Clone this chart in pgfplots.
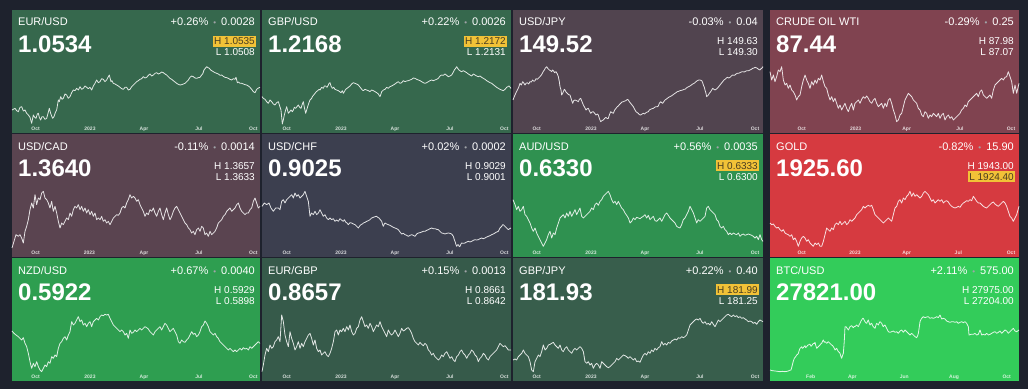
\documentclass[border=0pt]{standalone}
\usepackage{pgfplots}
\pgfplotsset{compat=1.18}
\usepackage{fontspec}
\setmainfont{Liberation Sans}
\definecolor{bg}{HTML}{1E222D}
\definecolor{c1}{HTML}{36684D}
\definecolor{c2}{HTML}{36684D}
\definecolor{c3}{HTML}{51444F}
\definecolor{c4}{HTML}{804350}
\definecolor{c5}{HTML}{5A4450}
\definecolor{c6}{HTML}{3C3F4F}
\definecolor{c7}{HTML}{2F9150}
\definecolor{c8}{HTML}{D63A40}
\definecolor{c9}{HTML}{2E9E50}
\definecolor{c10}{HTML}{365A4A}
\definecolor{c11}{HTML}{385E4C}
\definecolor{c12}{HTML}{33CC5A}
\definecolor{hly}{HTML}{F2C237}
\definecolor{hlt}{HTML}{4A3E20}
\definecolor{dotgrey}{HTML}{A0A4A8}

\newcommand{\tile}[8]{%
 \fill[#4] (#1,389-#2) rectangle (#3,389-#2-123);
 \node[anchor=base west,inner sep=0pt,text=white,font=\fontsize{11}{11}\selectfont] at (#1+6,389-#2-16) {#5};
 \node[anchor=base east,inner sep=0pt,text=white,font=\fontsize{11}{11}\selectfont] at (#3-5,389-#2-16) {#6\hspace{5pt}{\color{dotgrey}\fontsize{8}{8}\selectfont\textbullet}\hspace{5pt}#7};
 \node[anchor=base west,inner sep=0pt,text=white,font=\bfseries\fontsize{24}{24}\selectfont] at (#1+6,389-#2-42.5) {#8};
}
\tikzset{hlbox/.style={fill=hly,text=hlt}, plain/.style={text=white}}
\newcommand{\hlnode}[4]{\node[anchor=base east,inner xsep=1.5pt,inner ysep=1.6pt,font=\fontsize{10}{10}\selectfont,#4] at (#1-3.5,389-#2) {#3};}

\pgfplotsset{spark/.style={scale only axis, height=66pt, enlargelimits=false, clip=false,
  y dir=reverse, axis line style={draw=none}, major tick length=0pt, ytick=\empty,
  xticklabel style={anchor=center, yshift=-3pt, inner sep=0pt, text=white, text opacity=0.8, font=\bfseries\fontsize{5}{5}\selectfont}},
  spk/.style={white, opacity=0.85, line width=0.8pt, line join=round}}

\begin{document}
\begin{tikzpicture}[x=1pt,y=1pt]
\fill[bg] (0,0) rectangle (1028,389);
\tile{12}{10}{260}{c1}{EUR/USD}{+0.26\%}{0.0028}{1.0534}
\tile{262}{10}{511}{c2}{GBP/USD}{+0.22\%}{0.0026}{1.2168}
\tile{513}{10}{763}{c3}{USD/JPY}{-0.03\%}{0.04}{149.52}
\tile{770}{10}{1019}{c4}{CRUDE OIL WTI}{-0.29\%}{0.25}{87.44}
\tile{12}{134}{260}{c5}{USD/CAD}{-0.11\%}{0.0014}{1.3640}
\tile{262}{134}{511}{c6}{USD/CHF}{+0.02\%}{0.0002}{0.9025}
\tile{513}{134}{763}{c7}{AUD/USD}{+0.56\%}{0.0035}{0.6330}
\tile{770}{134}{1019}{c8}{GOLD}{-0.82\%}{15.90}{1925.60}
\tile{12}{258}{260}{c9}{NZD/USD}{+0.67\%}{0.0040}{0.5922}
\tile{262}{258}{511}{c10}{EUR/GBP}{+0.15\%}{0.0013}{0.8657}
\tile{513}{258}{763}{c11}{GBP/JPY}{+0.22\%}{0.40}{181.93}
\tile{770}{258}{1019}{c12}{BTC/USD}{+2.11\%}{575.00}{27821.00}

\hlnode{260}{45}{H 1.0535}{hlbox}\hlnode{260}{56}{L 1.0508}{plain}
\hlnode{511}{45}{H 1.2172}{hlbox}\hlnode{511}{56}{L 1.2131}{plain}
\hlnode{763}{45}{H 149.63}{plain}\hlnode{763}{56}{L 149.30}{plain}
\hlnode{1019}{45}{H 87.98}{plain}\hlnode{1019}{56}{L 87.07}{plain}
\hlnode{260}{169}{H 1.3657}{plain}\hlnode{260}{180}{L 1.3633}{plain}
\hlnode{511}{169}{H 0.9029}{plain}\hlnode{511}{180}{L 0.9001}{plain}
\hlnode{763}{169}{H 0.6333}{hlbox}\hlnode{763}{180}{L 0.6300}{plain}
\hlnode{1019}{169}{H 1943.00}{plain}\hlnode{1019}{180}{L 1924.40}{hlbox}
\hlnode{260}{293}{H 0.5929}{plain}\hlnode{260}{304}{L 0.5898}{plain}
\hlnode{511}{293}{H 0.8661}{plain}\hlnode{511}{304}{L 0.8642}{plain}
\hlnode{763}{293}{H 181.99}{hlbox}\hlnode{763}{304}{L 181.25}{plain}
\hlnode{1019}{293}{H 27975.00}{plain}\hlnode{1019}{304}{L 27204.00}{plain}

% EUR/USD
\begin{axis}[spark, at={(12pt,263pt)}, anchor=south west, width=248pt, xmin=36, xmax=780, ymin=180, ymax=378,
  xtick={107,270,432,597,760}, xticklabels={Oct,2023,Apr,Jul,Oct}]
\addplot[spk] coordinates {(36,330)(45,325)(50,332)(55,335)(60,322)(65,320)(70,333)(75,330)(80,340)(85,345)(90,352)(95,370)(100,345)(104,352)(108,355)(112,342)(115,340)(118,352)(122,360)(126,350)(130,350)(135,358)(140,355)(144,340)(148,325)(152,340)(155,348)(158,355)(162,350)(166,338)(170,330)(175,300)(178,305)(182,290)(186,298)(190,295)(195,282)(200,285)(205,295)(210,290)(215,278)(220,270)(225,272)(230,265)(235,270)(240,260)(245,268)(250,265)(255,258)(260,262)(265,266)(270,262)(275,270)(280,258)(285,250)(290,240)(295,248)(300,245)(305,236)(310,238)(315,245)(320,240)(324,232)(328,225)(333,245)(336,242)(340,250)(345,252)(350,255)(355,258)(360,262)(365,266)(370,268)(375,262)(380,262)(385,270)(390,268)(395,260)(400,255)(405,250)(410,245)(415,242)(420,238)(425,236)(430,230)(435,234)(440,232)(445,226)(450,222)(455,228)(460,225)(465,220)(470,218)(475,222)(480,220)(485,216)(490,218)(495,222)(500,225)(505,230)(510,235)(515,238)(520,242)(525,246)(530,250)(535,253)(540,255)(545,254)(550,252)(555,250)(560,245)(565,240)(570,232)(575,228)(580,230)(585,234)(590,235)(595,233)(600,232)(605,225)(608,222)(612,210)(616,205)(620,200)(624,203)(628,205)(632,210)(635,212)(640,215)(645,218)(650,220)(655,222)(660,226)(665,225)(670,229)(675,232)(680,233)(685,235)(690,238)(695,240)(700,236)(705,238)(708,232)(712,248)(716,246)(720,250)(725,250)(730,252)(735,254)(740,255)(745,258)(750,262)(755,268)(760,275)(765,278)(770,268)(775,264)(780,262)};
\end{axis}

% GBP/USD
\begin{axis}[spark, at={(262pt,263pt)}, anchor=south west, width=249pt, xmin=21, xmax=768, ymin=180, ymax=378,
  xtick={95,258,420,585,748}, xticklabels={Oct,2023,Apr,Jul,Oct}]
\addplot[spk] coordinates {(21,290)(25,295)(30,298)(35,305)(40,310)(45,300)(50,305)(55,312)(60,315)(65,308)(70,305)(74,318)(78,330)(82,372)(85,360)(88,345)(92,330)(95,320)(98,332)(100,340)(104,335)(108,330)(112,335)(115,330)(118,322)(122,325)(126,320)(130,315)(134,322)(138,325)(142,312)(145,305)(148,322)(152,340)(155,330)(158,320)(162,308)(165,300)(170,295)(172,290)(176,285)(180,280)(184,275)(188,272)(192,268)(195,270)(200,262)(205,265)(208,258)(212,258)(216,262)(220,255)(222,250)(225,248)(228,258)(232,265)(236,262)(240,268)(245,270)(250,272)(254,275)(258,278)(262,272)(265,280)(268,275)(272,268)(276,265)(280,262)(285,258)(290,252)(295,248)(300,250)(305,252)(310,255)(314,260)(318,265)(322,270)(325,272)(330,268)(335,270)(340,272)(345,275)(350,270)(355,272)(360,275)(365,278)(370,282)(375,290)(378,282)(380,275)(385,270)(390,268)(395,262)(400,265)(405,260)(410,258)(415,255)(420,252)(425,248)(430,245)(435,250)(440,248)(445,242)(450,245)(455,243)(460,242)(465,240)(470,238)(475,234)(480,235)(485,238)(490,240)(495,242)(500,245)(505,248)(510,250)(515,248)(520,245)(525,242)(530,240)(535,242)(540,240)(545,238)(550,235)(555,228)(560,225)(565,226)(570,222)(575,226)(580,230)(585,228)(590,225)(594,218)(598,210)(602,205)(605,200)(608,205)(612,210)(616,213)(620,215)(625,212)(630,215)(635,218)(640,222)(645,225)(650,228)(655,222)(660,225)(665,228)(670,230)(675,228)(680,232)(685,235)(690,238)(695,242)(700,245)(705,248)(710,250)(715,254)(720,258)(725,262)(730,265)(735,268)(740,270)(745,272)(750,268)(755,262)(762,258)(768,265)};
\end{axis}

% USD/JPY
\begin{axis}[spark, at={(513pt,263pt)}, anchor=south west, width=250pt, xmin=9, xmax=759, ymin=180, ymax=378,
  xtick={80,243,405,570,735}, xticklabels={Oct,2023,Apr,Jul,Oct}]
\addplot[spk] coordinates {(9,300)(12,292)(15,285)(18,278)(22,270)(26,262)(30,250)(34,255)(38,245)(42,250)(45,255)(48,250)(52,248)(56,252)(60,245)(64,246)(68,240)(72,244)(75,242)(78,236)(82,238)(86,234)(90,230)(94,225)(97,220)(100,214)(103,210)(106,204)(110,200)(114,206)(118,210)(122,212)(125,215)(128,210)(130,212)(134,218)(138,215)(142,222)(145,230)(148,245)(150,260)(153,270)(155,285)(158,280)(160,275)(163,268)(165,270)(168,276)(172,280)(176,284)(180,285)(184,298)(188,310)(191,302)(195,300)(200,302)(205,305)(208,298)(212,295)(216,305)(220,315)(224,322)(228,330)(232,326)(235,325)(238,332)(242,340)(246,336)(250,335)(254,340)(258,345)(262,342)(265,345)(268,355)(272,365)(276,362)(280,360)(284,355)(288,352)(292,356)(295,355)(298,345)(302,335)(306,338)(310,340)(314,330)(318,325)(322,320)(325,318)(328,314)(332,310)(336,306)(340,305)(344,303)(348,302)(352,298)(355,300)(358,305)(362,310)(366,315)(370,320)(374,328)(378,335)(382,338)(385,340)(388,344)(392,345)(396,342)(400,340)(404,342)(408,338)(412,336)(415,335)(418,330)(422,328)(426,326)(430,325)(434,322)(438,320)(442,320)(445,318)(448,310)(452,305)(455,308)(458,310)(462,304)(465,300)(468,298)(472,295)(476,292)(480,290)(484,288)(488,285)(492,282)(495,280)(498,278)(502,275)(506,274)(510,272)(514,271)(518,270)(522,268)(525,268)(528,265)(532,262)(536,260)(540,258)(544,255)(548,252)(552,250)(555,248)(558,245)(562,242)(566,240)(570,240)(575,242)(578,248)(580,255)(583,262)(585,270)(588,280)(590,290)(592,288)(595,285)(598,280)(602,275)(605,270)(608,265)(612,268)(615,270)(618,268)(622,265)(626,260)(630,255)(634,250)(638,245)(642,240)(645,238)(648,235)(652,232)(656,234)(660,232)(664,228)(668,225)(672,226)(675,225)(678,222)(682,220)(686,220)(690,218)(694,216)(698,215)(702,216)(705,215)(708,213)(712,212)(716,212)(720,210)(724,208)(728,205)(732,204)(735,202)(738,203)(742,205)(746,208)(750,210)(752,207)(755,205)(759,200)};
\end{axis}

% CRUDE OIL
\begin{axis}[spark, at={(770pt,263pt)}, anchor=south west, width=249pt, xmin=15, xmax=762, ymin=180, ymax=378,
  xtick={110,272,425,585,738}, xticklabels={Oct,2023,Apr,Jul,Oct}]
\addplot[spk] coordinates {(15,215)(20,240)(25,225)(30,245)(35,230)(40,210)(45,215)(50,200)(55,240)(60,255)(65,250)(70,265)(75,255)(80,270)(85,275)(90,285)(95,300)(100,290)(105,285)(110,260)(115,240)(120,225)(125,240)(130,250)(135,265)(140,245)(145,255)(150,240)(155,250)(160,235)(165,240)(170,225)(175,245)(180,260)(185,265)(190,285)(195,300)(200,290)(205,305)(210,295)(215,310)(220,325)(225,315)(230,330)(235,320)(240,310)(245,325)(250,335)(255,320)(260,310)(265,330)(270,310)(275,305)(280,300)(285,310)(290,298)(295,290)(300,295)(305,288)(310,295)(315,305)(320,310)(325,300)(330,295)(335,310)(340,320)(345,315)(350,310)(355,325)(360,310)(365,320)(370,300)(375,295)(380,310)(385,330)(390,345)(395,365)(400,360)(405,345)(410,340)(415,320)(420,300)(425,290)(430,280)(435,285)(440,290)(445,300)(450,305)(455,310)(460,325)(465,330)(470,345)(475,350)(480,335)(485,340)(490,355)(495,345)(500,350)(505,340)(510,345)(515,350)(520,340)(525,355)(530,345)(535,340)(540,360)(545,350)(550,345)(555,355)(560,350)(565,360)(570,355)(575,350)(580,345)(585,340)(590,330)(595,325)(600,315)(605,320)(610,305)(615,300)(620,295)(625,290)(630,285)(635,280)(640,290)(645,275)(650,270)(655,285)(660,290)(665,295)(670,290)(675,285)(680,295)(685,270)(690,255)(695,250)(700,245)(705,240)(710,235)(715,240)(720,232)(725,230)(730,215)(735,230)(740,245)(745,280)(750,255)(755,280)(762,250)};
\end{axis}

% USD/CAD
\begin{axis}[spark, at={(12pt,139pt)}, anchor=south west, width=248pt, xmin=36, xmax=780, ymin=168, ymax=366,
  xtick={107,268,432,597,760}, xticklabels={Oct,2023,Apr,Jul,Oct}]
\addplot[spk] coordinates {(36,360)(42,340)(48,320)(55,325)(60,320)(65,330)(70,345)(75,310)(80,295)(85,275)(90,245)(95,225)(100,240)(105,200)(110,230)(115,210)(120,215)(125,195)(130,190)(135,210)(140,215)(145,225)(150,240)(155,220)(160,250)(165,235)(170,255)(175,280)(180,300)(185,285)(190,290)(195,280)(200,270)(205,275)(210,255)(215,265)(220,245)(225,235)(230,240)(235,230)(240,245)(245,235)(250,250)(255,240)(260,255)(265,245)(270,260)(275,250)(280,265)(285,255)(290,275)(295,270)(300,275)(305,265)(310,280)(315,275)(320,285)(325,280)(330,290)(335,280)(340,270)(345,265)(350,260)(355,262)(360,255)(365,240)(370,235)(375,240)(380,225)(385,215)(390,200)(395,210)(400,205)(405,210)(410,220)(415,215)(420,230)(425,240)(430,250)(435,265)(440,255)(445,260)(450,245)(455,250)(460,240)(465,255)(470,265)(475,250)(480,240)(485,260)(490,275)(495,255)(500,240)(505,260)(510,275)(515,265)(520,250)(525,240)(530,235)(535,245)(540,255)(545,265)(550,275)(555,285)(560,290)(565,300)(570,305)(575,315)(580,310)(585,320)(590,305)(595,300)(600,310)(605,295)(610,300)(615,320)(620,315)(625,325)(630,310)(635,320)(640,315)(645,310)(650,300)(655,285)(660,280)(665,275)(670,265)(675,260)(680,250)(685,245)(690,240)(695,250)(700,245)(705,240)(710,230)(715,225)(720,240)(725,250)(730,255)(735,260)(740,255)(745,255)(750,245)(755,240)(760,220)(765,210)(770,225)(775,240)(780,235)};
\end{axis}

% USD/CHF
\begin{axis}[spark, at={(262pt,139pt)}, anchor=south west, width=249pt, xmin=21, xmax=768, ymin=168, ymax=366,
  xtick={95,258,420,585,748}, xticklabels={Oct,2023,Apr,Jul,Oct}]
\addplot[spk] coordinates {(21,235)(28,225)(35,230)(42,225)(48,240)(55,250)(62,240)(70,240)(75,245)(80,220)(85,215)(90,225)(95,215)(100,210)(105,205)(110,200)(115,210)(120,195)(125,205)(130,200)(135,210)(140,205)(145,200)(150,190)(155,205)(160,220)(165,265)(170,255)(175,260)(180,250)(185,260)(190,255)(195,245)(200,255)(205,265)(210,260)(215,270)(220,275)(225,270)(230,275)(235,272)(240,280)(245,276)(250,280)(255,272)(258,275)(262,278)(265,280)(268,275)(272,282)(276,285)(280,290)(285,284)(290,285)(295,288)(300,290)(305,295)(310,300)(314,294)(318,290)(322,288)(325,285)(330,283)(335,280)(340,278)(345,275)(350,270)(355,268)(360,266)(365,265)(368,268)(372,270)(376,275)(380,280)(383,290)(385,295)(388,288)(390,285)(395,288)(400,290)(405,292)(410,295)(415,298)(420,300)(425,302)(430,305)(435,312)(440,318)(445,316)(450,320)(455,322)(460,325)(465,322)(470,320)(475,322)(480,325)(485,318)(490,315)(495,314)(500,312)(505,310)(510,310)(515,307)(520,305)(525,302)(530,300)(535,302)(540,302)(545,304)(550,305)(555,310)(560,315)(565,316)(570,318)(575,316)(580,315)(585,316)(590,318)(595,325)(598,335)(600,340)(603,350)(605,355)(608,350)(610,350)(613,356)(615,355)(618,348)(620,345)(625,346)(630,345)(635,342)(640,340)(645,342)(650,340)(655,337)(660,335)(665,336)(670,335)(675,332)(680,330)(685,332)(690,330)(695,327)(700,325)(705,323)(710,320)(715,318)(720,315)(725,312)(730,310)(735,300)(740,295)(743,290)(745,290)(750,295)(755,300)(760,305)(764,302)(768,300)};
\end{axis}

% AUD/USD
\begin{axis}[spark, at={(513pt,139pt)}, anchor=south west, width=250pt, xmin=9, xmax=759, ymin=168, ymax=366,
  xtick={80,243,405,570,735}, xticklabels={Oct,2023,Apr,Jul,Oct}]
\addplot[spk] coordinates {(9,215)(15,230)(20,245)(25,235)(30,250)(35,245)(40,235)(45,260)(50,265)(55,275)(60,285)(65,300)(70,310)(75,300)(80,315)(85,325)(90,335)(95,345)(100,355)(105,345)(110,335)(115,320)(120,310)(125,330)(130,315)(135,320)(140,300)(145,285)(150,270)(155,265)(160,260)(165,270)(170,255)(175,265)(180,250)(185,265)(190,255)(195,245)(200,260)(205,250)(210,240)(215,265)(220,270)(225,265)(230,260)(235,255)(240,250)(245,240)(250,245)(255,230)(260,225)(265,232)(270,220)(275,215)(280,205)(285,200)(290,195)(295,190)(300,200)(305,215)(310,225)(315,220)(320,230)(325,220)(330,230)(335,240)(340,245)(345,255)(350,262)(355,270)(360,285)(365,280)(370,270)(375,275)(380,268)(385,270)(390,272)(395,268)(400,265)(405,260)(410,270)(415,262)(420,275)(425,270)(430,265)(435,278)(440,280)(445,275)(450,270)(455,280)(460,270)(465,260)(470,255)(475,262)(480,270)(485,275)(490,280)(495,285)(500,295)(505,298)(510,300)(515,290)(520,275)(525,270)(530,260)(535,250)(540,235)(545,245)(550,255)(555,270)(560,285)(565,275)(570,280)(575,275)(580,270)(585,265)(590,240)(595,235)(600,245)(605,250)(610,255)(615,260)(620,275)(625,280)(630,295)(635,300)(640,295)(645,305)(650,310)(655,320)(660,315)(665,320)(670,315)(675,318)(680,320)(685,315)(690,325)(695,320)(700,318)(705,322)(710,320)(715,318)(720,320)(725,322)(730,325)(735,330)(740,325)(745,335)(750,320)(755,335)(759,340)};
\end{axis}

% GOLD
\begin{axis}[spark, at={(770pt,139pt)}, anchor=south west, width=249pt, xmin=15, xmax=762, ymin=168, ymax=366,
  xtick={110,270,425,580,738}, xticklabels={Oct,2023,Apr,Jul,Oct}]
\addplot[spk] coordinates {(15,285)(20,290)(25,288)(30,295)(35,300)(40,298)(45,305)(50,310)(55,305)(60,315)(65,318)(70,320)(75,325)(80,320)(85,335)(90,330)(95,340)(100,355)(105,340)(110,330)(115,325)(120,330)(125,340)(130,335)(135,345)(140,350)(145,355)(150,345)(155,350)(160,345)(165,355)(170,355)(175,340)(180,320)(185,300)(190,305)(195,310)(200,300)(205,305)(210,290)(215,285)(220,290)(225,280)(230,290)(235,285)(240,280)(245,290)(250,285)(255,275)(260,280)(265,275)(270,270)(275,260)(280,255)(285,250)(290,245)(295,235)(300,240)(305,235)(310,232)(315,235)(320,232)(325,245)(330,260)(335,265)(340,270)(345,275)(350,280)(355,285)(360,280)(365,275)(370,270)(375,275)(380,280)(385,260)(390,240)(395,235)(400,220)(405,215)(410,225)(415,210)(420,215)(425,205)(430,200)(435,190)(440,205)(445,195)(450,205)(455,200)(460,205)(465,210)(470,205)(475,195)(480,190)(485,195)(490,200)(495,210)(500,220)(505,215)(510,225)(515,220)(520,215)(525,220)(530,215)(535,225)(540,220)(545,218)(550,222)(555,230)(560,235)(565,238)(570,240)(575,238)(580,235)(585,238)(590,230)(595,225)(600,222)(605,218)(610,220)(615,215)(620,218)(625,205)(630,212)(635,220)(640,225)(645,225)(650,230)(655,235)(660,238)(665,240)(670,235)(675,230)(680,225)(685,222)(690,228)(695,232)(700,235)(705,230)(710,225)(715,220)(720,225)(725,235)(730,250)(735,265)(740,270)(745,280)(750,270)(755,260)(762,235)};
\end{axis}

% NZD/USD
\begin{axis}[spark, at={(12pt,15pt)}, anchor=south west, width=248pt, xmin=36, xmax=780, ymin=159, ymax=357,
  xtick={107,270,432,597,760}, xticklabels={Oct,2023,Apr,Jul,Oct}]
\addplot[spk] coordinates {(36,228)(42,235)(48,240)(55,245)(60,250)(65,255)(70,248)(75,265)(80,275)(85,295)(90,320)(95,340)(100,325)(105,335)(110,320)(115,335)(120,345)(125,350)(130,340)(135,330)(140,335)(145,320)(150,325)(155,305)(160,310)(165,300)(170,305)(175,280)(180,265)(185,260)(190,250)(195,245)(200,255)(205,240)(210,230)(215,200)(220,210)(225,205)(230,195)(235,185)(240,200)(245,195)(250,210)(255,205)(260,215)(265,205)(270,200)(275,215)(280,200)(285,195)(290,190)(295,195)(300,185)(305,180)(310,182)(315,178)(320,180)(325,178)(330,190)(335,200)(340,210)(345,215)(350,220)(355,225)(360,230)(365,225)(370,230)(375,240)(380,235)(385,250)(390,225)(395,235)(400,232)(405,225)(410,230)(415,225)(420,220)(425,225)(430,220)(435,215)(440,218)(445,222)(450,230)(455,235)(460,240)(465,230)(470,225)(475,220)(480,215)(485,225)(490,215)(495,205)(500,210)(505,220)(510,230)(515,225)(520,220)(525,230)(530,240)(535,260)(540,265)(545,255)(550,260)(555,262)(560,255)(565,250)(570,240)(575,230)(580,238)(585,235)(590,245)(595,240)(600,230)(605,215)(610,210)(615,198)(620,205)(625,215)(630,230)(635,235)(640,240)(645,235)(650,245)(655,250)(660,260)(665,265)(670,270)(675,275)(680,280)(685,285)(690,280)(695,285)(700,290)(705,285)(710,290)(715,285)(720,280)(725,285)(730,278)(735,282)(740,280)(745,285)(750,275)(755,280)(760,275)(765,270)(770,265)(775,260)(780,265)};
\end{axis}

% EUR/GBP
\begin{axis}[spark, at={(262pt,15pt)}, anchor=south west, width=249pt, xmin=21, xmax=768, ymin=159, ymax=357,
  xtick={95,258,420,585,748}, xticklabels={Oct,2023,Apr,Jul,Oct}]
\addplot[spk] coordinates {(21,350)(25,330)(30,300)(35,280)(40,290)(45,270)(50,280)(55,275)(60,260)(65,255)(70,245)(75,260)(80,180)(85,200)(90,240)(95,260)(100,275)(105,230)(110,250)(115,265)(120,285)(125,275)(130,260)(135,280)(140,265)(145,275)(150,260)(155,250)(160,240)(165,235)(170,250)(175,270)(180,255)(185,280)(190,290)(195,285)(200,300)(205,295)(210,290)(215,300)(220,305)(225,295)(230,280)(235,260)(240,230)(245,225)(250,240)(255,225)(260,230)(265,220)(270,230)(275,215)(280,225)(285,210)(290,230)(295,240)(300,235)(305,220)(310,215)(315,195)(320,185)(325,200)(330,215)(335,210)(340,220)(345,205)(350,215)(355,230)(360,220)(365,210)(370,215)(375,200)(380,215)(385,225)(390,235)(395,245)(400,225)(405,235)(410,240)(415,235)(420,225)(425,235)(430,245)(435,235)(440,220)(445,228)(450,225)(455,220)(460,218)(465,225)(470,235)(475,250)(480,260)(485,265)(490,270)(495,262)(500,268)(505,272)(510,265)(515,270)(520,285)(525,290)(530,300)(535,295)(540,305)(545,310)(550,315)(555,310)(560,300)(565,305)(570,295)(575,290)(580,300)(585,310)(590,305)(595,315)(600,320)(605,305)(610,300)(615,290)(620,285)(625,295)(630,300)(635,310)(640,300)(645,295)(650,285)(655,290)(660,300)(665,305)(670,320)(675,310)(680,305)(685,295)(690,300)(695,310)(700,315)(705,305)(710,300)(715,295)(720,290)(725,285)(730,275)(735,265)(740,270)(745,275)(750,272)(755,278)(760,285)(768,285)};
\end{axis}

% GBP/JPY
\begin{axis}[spark, at={(513pt,15pt)}, anchor=south west, width=250pt, xmin=9, xmax=759, ymin=159, ymax=357,
  xtick={80,243,405,570,735}, xticklabels={Oct,2023,Apr,Jul,Oct}]
\addplot[spk] coordinates {(9,315)(15,312)(20,315)(25,305)(30,300)(35,295)(40,285)(45,295)(50,300)(55,305)(60,320)(65,345)(70,350)(75,320)(80,310)(85,300)(90,305)(95,290)(100,270)(105,285)(110,280)(115,270)(120,268)(125,265)(130,262)(135,270)(140,275)(145,280)(150,270)(155,285)(160,290)(165,280)(170,275)(175,285)(180,290)(185,295)(190,285)(195,280)(200,285)(205,280)(210,275)(215,280)(220,290)(225,320)(230,325)(235,320)(240,330)(245,325)(250,340)(255,330)(260,325)(265,330)(270,340)(275,320)(280,325)(285,330)(290,335)(295,338)(300,335)(305,330)(310,325)(315,320)(320,310)(325,315)(330,310)(335,305)(340,300)(345,302)(350,305)(355,310)(360,305)(365,310)(370,315)(375,310)(380,320)(385,318)(390,322)(395,310)(400,300)(405,295)(410,300)(415,290)(420,295)(425,285)(430,290)(435,280)(440,285)(445,278)(450,275)(455,260)(460,270)(465,265)(470,270)(475,262)(480,265)(485,258)(490,255)(495,252)(500,255)(505,248)(510,250)(515,245)(520,248)(525,245)(530,240)(535,225)(540,210)(545,205)(550,200)(555,195)(560,192)(565,195)(570,190)(575,200)(580,205)(585,200)(590,208)(595,205)(600,210)(605,200)(610,208)(615,215)(620,205)(625,195)(630,200)(635,195)(640,190)(645,185)(650,180)(655,178)(660,182)(665,185)(670,180)(675,185)(680,182)(685,188)(690,185)(695,190)(700,188)(705,192)(710,195)(715,200)(720,198)(725,200)(730,205)(735,202)(740,208)(745,200)(750,195)(755,198)(759,200)};
\end{axis}

% BTC/USD
\begin{axis}[spark, at={(770pt,15pt)}, anchor=south west, width=249pt, xmin=15, xmax=762, ymin=159, ymax=357,
  xtick={137,262,418,567,725}, xticklabels={Feb,Apr,Jun,Aug,Oct}]
\addplot[spk] coordinates {(15,345)(22,347)(30,348)(38,349)(45,350)(52,349)(60,350)(66,349)(70,348)(74,346)(78,345)(80,338)(82,330)(85,318)(88,310)(92,305)(95,300)(98,298)(100,295)(103,285)(105,280)(108,277)(110,275)(112,280)(115,278)(118,274)(120,272)(122,278)(125,275)(128,271)(130,270)(133,268)(135,268)(138,274)(140,272)(143,268)(145,265)(148,266)(150,262)(152,270)(155,280)(158,277)(160,275)(163,272)(165,270)(168,266)(170,265)(173,258)(175,255)(178,262)(180,260)(183,263)(185,265)(188,262)(190,260)(193,263)(195,265)(198,268)(200,270)(203,272)(205,275)(208,280)(210,285)(213,282)(215,280)(218,286)(220,290)(223,292)(225,295)(228,305)(230,310)(233,300)(235,295)(237,270)(238,255)(240,215)(243,215)(245,218)(248,222)(250,225)(253,219)(255,215)(258,213)(260,212)(263,216)(265,218)(268,214)(270,215)(273,212)(275,210)(278,213)(280,215)(283,208)(285,205)(288,198)(290,195)(293,190)(295,190)(298,196)(300,200)(303,204)(305,205)(308,198)(310,195)(313,205)(315,210)(318,206)(320,205)(323,212)(325,215)(328,218)(330,220)(333,210)(335,205)(338,208)(340,210)(343,203)(345,200)(348,203)(350,205)(353,212)(355,215)(358,211)(360,210)(363,216)(365,220)(368,226)(370,230)(375,232)(380,230)(385,228)(390,232)(395,230)(400,235)(405,228)(410,225)(415,232)(420,225)(425,230)(430,235)(435,240)(440,235)(445,240)(450,245)(455,248)(458,242)(460,235)(463,215)(465,200)(468,193)(470,190)(475,185)(480,188)(485,186)(490,185)(495,190)(500,188)(505,190)(510,188)(515,185)(520,188)(525,180)(530,192)(535,190)(540,192)(545,198)(550,200)(555,202)(560,200)(565,200)(570,202)(575,200)(580,205)(585,202)(590,200)(595,203)(600,200)(605,205)(610,215)(612,240)(618,238)(625,238)(630,235)(635,240)(640,238)(645,225)(650,240)(655,238)(660,240)(665,235)(670,240)(675,238)(680,235)(685,232)(690,230)(695,235)(700,232)(705,228)(710,235)(715,230)(720,225)(725,228)(730,235)(735,230)(740,225)(745,220)(750,228)(755,230)(762,225)};
\end{axis}

\pgfresetboundingbox
\useasboundingbox (0,0) rectangle (1028,389);
\end{tikzpicture}
\end{document}
